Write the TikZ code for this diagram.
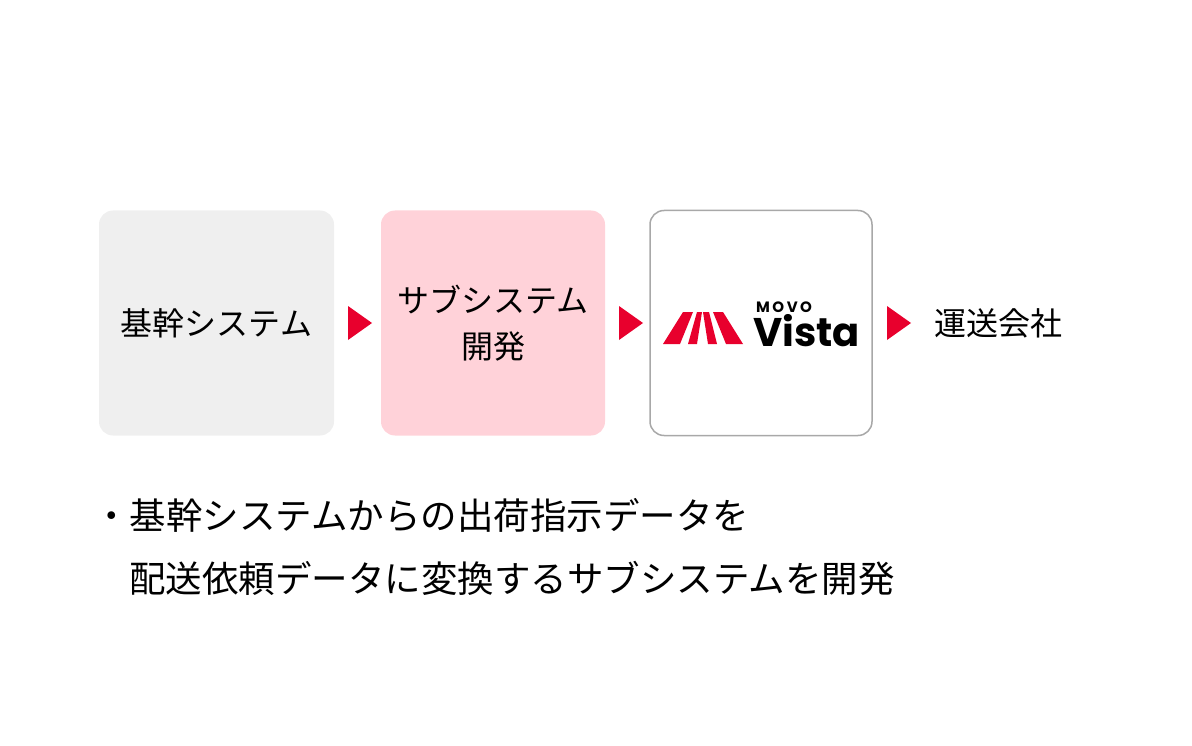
\documentclass[tikz,border=0pt]{standalone}
\usepackage{fontspec}
\setmainfont{Noto Sans CJK JP}
\newfontfamily\pop{Poppins}
\definecolor{mred}{HTML}{E8002D}
\definecolor{g1}{HTML}{EFEFEF}
\definecolor{p1}{HTML}{FFD2D9}
\definecolor{bd}{HTML}{A8A8A8}
\begin{document}
\begin{tikzpicture}[x=1pt,y=-1pt,
  card/.style={rounded corners=14pt,minimum width=#1,minimum height=225pt,inner sep=0pt,align=center,font=\fontsize{32}{46}\selectfont},
  tri/.style={fill=mred}]
\useasboundingbox (0,0) rectangle (1192,746);
\node[card=235pt,fill=g1] (b1) at (216.5,323) {基幹システム};
\node[card=224pt,fill=p1] (b2) at (493,323) {サブシステム\\開発};
\node[card=222pt,fill=white,draw=bd,line width=1.5pt] (b3) at (761,323) {};
\node[font=\fontsize{32}{36}\selectfont,anchor=west,inner sep=0pt] (t4) at (934,323) {運送会社};
\coordinate (a1) at (348,323);
\coordinate (a2) at (619,323);
\coordinate (a3) at (887,323);
\foreach \a in {a1,a2,a3}{\fill[mred] (\a) ++(0,-17) -- ++(24,17) -- ++(-24,17) -- cycle;}
% logo
\fill[mred] (663,344) -- (680,344) -- (693,312) -- (683,312) -- cycle;
\fill[mred] (688,344) -- (697,344) -- (702,312) -- (697,312) -- cycle;
\fill[mred] (708,344) -- (717,344) -- (709,312) -- (703,312) -- cycle;
\fill[mred] (726,344) -- (743,344) -- (723,312) -- (713,312) -- cycle;
\node[font=\pop\bfseries\fontsize{15}{16}\selectfont,anchor=west,inner sep=0pt] (mv) at (756,307) {M\,O\,V\,O};
\node[font=\pop\bfseries\fontsize{40}{44}\selectfont,anchor=west,inner sep=0pt] (vs) at (753,331) {Vista};
\node[font=\fontsize{36.5}{44}\selectfont,anchor=west,inner sep=0pt] (l1) at (93,515) {・基幹システムからの出荷指示データを};
\node[font=\fontsize{36.5}{44}\selectfont,anchor=west,inner sep=0pt] (l2) at (129,578) {配送依頼データに変換するサブシステムを開発};
\end{tikzpicture}
\end{document}
